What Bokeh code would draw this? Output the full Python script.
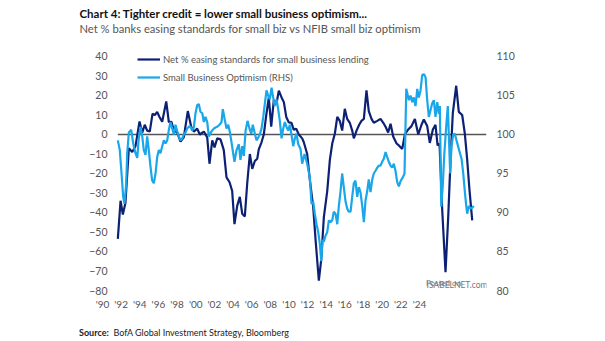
from bokeh.plotting import figure
from bokeh.models import (Range1d, LinearAxis, Label, Title, Div,
                          Legend, LegendItem, FixedTicker)
from bokeh.layouts import column
from bokeh.embed import file_html
from bokeh.resources import INLINE

# Net % banks easing standards for small business lending (LHS), quarterly
dark_dates = [1990.28, 1990.53, 1990.74, 1990.98, 1991.29, 1991.60, 1991.90, 1992.27, 1992.52, 1992.75,
              1992.97, 1993.21, 1993.46, 1993.67, 1993.89, 1994.10, 1994.35, 1994.72, 1994.96, 1995.20,
              1995.42, 1995.73, 1996.03, 1996.33, 1996.70, 1997.01, 1997.25, 1997.56, 1997.80, 1998.17,
              1998.48, 1998.69, 1998.94, 1999.15, 1999.40, 1999.70, 2000.00, 2000.25, 2000.53, 2000.77,
              2000.98, 2001.23, 2001.47, 2001.69, 2001.93, 2002.15, 2002.39, 2002.61, 2002.85, 2003.07,
              2003.21, 2003.46, 2003.67, 2003.89, 2004.13, 2004.35, 2004.59, 2004.84, 2005.05, 2005.30,
              2005.51, 2005.73, 2005.97, 2006.21, 2006.42, 2006.64, 2006.88, 2007.19, 2007.34, 2007.65,
              2007.89, 2008.20, 2008.42, 2008.72, 2008.94, 2009.18, 2009.49, 2009.73, 2009.95, 2010.19,
              2010.41, 2010.64, 2010.86, 2011.10, 2011.32, 2011.56, 2011.78, 2011.93, 2012.18, 2012.42,
              2012.63, 2012.85, 2013.09, 2013.30, 2013.55, 2013.76, 2014.08, 2014.38, 2014.63, 2014.84,
              2015.08, 2015.30, 2015.54, 2015.85, 2016.06, 2016.37, 2016.61, 2016.92, 2017.22, 2017.53,
              2017.84, 2018.14, 2018.35, 2018.66, 2018.90, 2019.18, 2019.42, 2019.61, 2019.79, 2020.04,
              2020.34, 2020.59, 2020.80, 2021.01, 2021.32, 2021.56, 2021.87, 2022.11, 2022.33, 2022.54,
              2022.79]
dark_vals = [-53.5, -34, -41, -35, -7, -9, -6, 6.7, 1, 5,
             2, 1.5, 10.6, 10, 11.5, 9, 6.5, 17, 6.3, 6.5,
             2, 1, -3.6, -1.5, 12, 4, 1.5, 3, 0, 1.5,
             -1.5, -15, -3, -6.6, -2, -2.5, -8, -22, -24.5, -29,
             -46, -36.6, -32, -40.6, -42, -25, -10, -17.6, -13.6, -12.4,
             -7.6, -4, 0, 9.7, 19, 4, 17.6, 16, 22.5, 19,
             16.6, 9, 6.2, 6, 2.4, 3, 0, -2, -4, -10,
             -23, -37, -54, -75, -64, -42.4, -29, -13, -4.6, 0.5,
             9, 7, 2, 13.2, 8, 6, 2, -2, 2, 5,
             7, 8, 22.6, 12, 8, 6, 7, 8, 6, 4,
             1, 5.5, -1, -4.6, -5.6, -7.4, 0, 2.6, 4.3, 8,
             0, 5, 7.7, 4.3, -4.3, 2.6, 5, -5.6, -4.6, -39,
             -70.6, -42, -13, 11, 25, 11.6, 10, 0.5, -13, -28.5,
             -44]

# NFIB Small Business Optimism index (RHS)
light_dates = [1990.28, 1990.46, 1990.62, 1990.77, 1990.89, 1991.05, 1991.14, 1991.29, 1991.51, 1991.69,
               1991.90, 1992.06, 1992.20, 1992.36, 1992.52, 1992.66, 1992.82, 1992.97, 1993.12, 1993.28,
               1993.43, 1993.58, 1993.74, 1993.89, 1994.04, 1994.19, 1994.35, 1994.50, 1994.65, 1994.81,
               1994.96, 1995.11, 1995.27, 1995.42, 1995.57, 1995.73, 1995.87, 1996.03, 1996.19, 1996.33,
               1996.49, 1996.64, 1996.79, 1996.95, 1997.10, 1997.25, 1997.41, 1997.56, 1997.71, 1997.86,
               1998.02, 1998.17, 1998.32, 1998.48, 1998.63, 1998.87, 1999.08, 1999.24, 1999.40, 1999.61,
               1999.79, 1999.91, 2000.09, 2000.25, 2000.41, 2000.53, 2000.71, 2000.86, 2000.98, 2001.17,
               2001.38, 2001.53, 2001.69, 2001.84, 2002.00, 2002.18, 2002.36, 2002.52, 2002.66, 2002.85,
               2003.00, 2003.16, 2003.30, 2003.46, 2003.62, 2003.76, 2003.92, 2004.07, 2004.22, 2004.38,
               2004.53, 2004.68, 2004.84, 2004.99, 2005.14, 2005.30, 2005.45, 2005.60, 2005.75, 2005.91,
               2006.06, 2006.21, 2006.37, 2006.52, 2006.67, 2006.83, 2007.04, 2007.19, 2007.41, 2007.65,
               2007.89, 2008.05, 2008.20, 2008.35, 2008.51, 2008.66, 2008.81, 2008.94, 2009.06, 2009.18,
               2009.33, 2009.49, 2009.64, 2009.79, 2009.95, 2010.09, 2010.25, 2010.41, 2010.55, 2010.71,
               2010.86, 2011.01, 2011.17, 2011.32, 2011.47, 2011.63, 2011.78, 2011.93, 2012.08, 2012.24,
               2012.39, 2012.54, 2012.70, 2012.85, 2013.00, 2013.16, 2013.30, 2013.46, 2013.62, 2013.76,
               2013.92, 2014.08, 2014.22, 2014.38, 2014.53, 2014.68, 2014.84, 2014.99, 2015.14, 2015.30,
               2015.45, 2015.60, 2015.75, 2015.91, 2016.06, 2016.21, 2016.42, 2016.58, 2016.74, 2016.98,
               2017.13, 2017.29, 2017.43, 2017.59, 2017.75, 2017.89, 2018.05, 2018.20, 2018.35, 2018.51,
               2018.66, 2018.81, 2018.97, 2019.12, 2019.27, 2019.42, 2019.58, 2019.73, 2019.82, 2019.95,
               2020.09, 2020.22, 2020.41, 2020.55, 2020.64, 2020.77, 2020.89, 2021.05, 2021.19, 2021.35,
               2021.56, 2021.81, 2021.96, 2022.11, 2022.24, 2022.33, 2022.48, 2022.64, 2022.79, 2022.94]
light_vals = [99.25, 98, 95, 92, 91.1, 93.75, 97.6, 100.25, 100.6, 98.85,
              97.6, 97, 99.5, 101, 99.75, 98, 97.4, 99.75, 98, 95.85,
              94.1, 93.75, 95, 97.1, 98, 97.6, 98.5, 99.25, 98.85, 99.25,
              100.6, 101.6, 100.75, 100, 101.25, 100.4, 99.75, 99.25, 99.5, 100,
              100.25, 100.75, 101, 101, 100.5, 100.9, 102.75, 103.75, 103.9, 102.9,
              102.75, 101.6, 102.25, 101.6, 99.75, 100.4, 100.75, 100.9, 101, 101.25,
              101.6, 103.25, 101.9, 100.75, 101.25, 100.5, 99, 97.6, 96.5, 98,
              98.75, 96.75, 98.5, 97.25, 100.5, 101.75, 100.75, 100.1, 101.25, 100.1,
              99.25, 99.6, 100, 100.75, 102.25, 103.9, 105.65, 105, 104.5, 106,
              104.75, 103.65, 104.5, 103.25, 101.75, 99.5, 100.75, 101.6, 101, 100.5,
              101.25, 100, 98.5, 99.5, 100.1, 98.75, 98.15, 96.25, 97.5, 96.25,
              94.5, 91.1, 91.4, 89.85, 88.5, 87.5, 86, 83.75, 86.5, 86.25,
              87, 87.5, 89, 88.75, 89, 90.1, 89.85, 88.5, 90.75, 92.75,
              95, 93.25, 91.4, 90.5, 90.1, 90.1, 92, 93.75, 94.1, 92,
              93.25, 92.6, 90.85, 88.75, 91.5, 92.75, 94.25, 92.6, 94.25, 95,
              95.35, 95.75, 96, 96, 96.5, 96.9, 97.75, 97.1, 96.5, 96,
              95.75, 96.25, 95.35, 93.9, 93.35, 94, 94.5, 95, 105.85, 104.4,
              105, 104.15, 104.75, 103.65, 105.85, 104.75, 105.65, 107.6, 107.75, 107.35,
              104.4, 102.25, 103.15, 104, 104.4, 102.25, 104.15, 102.65, 103.65, 90.75,
              93.5, 97.25, 101.15, 103.65, 100.1, 95, 98.5, 100, 100.1, 99.25,
              98.15, 96.9, 95.1, 92.75, 90.85, 89.85, 90.85, 90.5, 90.6, 90.85]

year_ticks = list(range(1990, 2025, 2))
year_labels = ["'%02d" % (y % 100) for y in year_ticks]
left_ticks = list(range(-80, 41, 10))
right_ticks = list(range(80, 111, 5))

DARK = "#0C2173"
LIGHT = "#19A7EA"
GREY = "#555555"
FONT = "Lato"

p = figure(width=605, height=320, output_backend="svg", toolbar_location=None,
           x_range=Range1d(1988.323, 2024.1), y_range=Range1d(-80, 51.28),
           min_border_left=96, min_border_right=119, min_border_top=34, min_border_bottom=30,
           x_axis_location=None, title=None, margin=0)
p.outline_line_color = None
p.grid.visible = False
p.background_fill_color = "white"
p.border_fill_color = "white"

p.extra_y_ranges = {"rhs": Range1d(80, 112.82)}
p.extra_x_ranges = {"lab": Range1d(1989.356, 2031.19)}

yl = p.yaxis[0]
yl.ticker = FixedTicker(ticks=left_ticks)
yr = LinearAxis(y_range_name="rhs", ticker=FixedTicker(ticks=right_ticks))
p.add_layout(yr, "right")
xb = LinearAxis(x_range_name="lab", ticker=FixedTicker(ticks=year_ticks),
                major_label_overrides={t: s for t, s in zip(year_ticks, year_labels)})
p.add_layout(xb, "below")
for ax in (yl, yr, xb):
    ax.axis_line_color = None
    ax.major_tick_line_color = None
    ax.minor_tick_line_color = None
    ax.major_tick_out = 0
    ax.major_tick_in = 0
    ax.minor_tick_out = 0
    ax.minor_tick_in = 0
    ax.major_label_text_color = GREY
    ax.major_label_text_font = FONT
    ax.major_label_text_font_size = "10.5px"
    ax.major_label_standoff = 10
yl.major_label_standoff = -11
xb.major_label_text_font_size = "10px"
xb.major_label_standoff = 7

# zero line from the first observation to the right edge
p.line([dark_dates[0], p.x_range.end], [0, 0], line_color=GREY, line_width=1.3)

r_dark = p.line(dark_dates, dark_vals, line_color=DARK, line_width=2.2)
r_light = p.line(light_dates, light_vals, y_range_name="rhs", line_color=LIGHT, line_width=2.2)

legend = Legend(items=[LegendItem(label="Net % easing standards for small business lending", renderers=[r_dark]),
                       LegendItem(label="Small Business Optimism (RHS)", renderers=[r_light])],
                location=(41, 206), padding=0, spacing=4, margin=0,
                glyph_width=23, glyph_height=14, label_height=14, label_standoff=3,
                label_text_font=FONT, label_text_font_size="9.5px", label_text_color=GREY,
                border_line_color=None, background_fill_alpha=0)
p.add_layout(legend, "center")

p.add_layout(Title(text="Net % banks easing standards for small biz vs NFIB small biz optimism",
                   align="left", offset=-17, standoff=0, text_font=FONT, text_font_style="normal",
                   text_font_size="11.2px", text_color=GREY), "above")
p.add_layout(Title(text="Chart 4: Tighter credit = lower small business optimism...",
                   align="left", offset=-17, standoff=0, text_font=FONT, text_font_style="bold",
                   text_font_size="11.5px", text_color="#111111"), "above")

p.add_layout(Label(x=347, y=8, x_units="screen", y_units="screen", text="Posted on",
                   text_font=FONT, text_font_size="8px", text_color="#777777",
                   text_align="center", text_baseline="middle"))
p.add_layout(Label(x=330, y=1, x_units="screen", y_units="screen", text="ISABELNET.com",
                   text_font=FONT, text_font_size="8.5px", text_color="#777777",
                   text_baseline="bottom"))

source = Div(text=('<div style="margin:7px 0 0 79px; font-family:Lato; font-size:9px; '
                   'line-height:12px; color:#222222; white-space:nowrap;">'
                   '<b>Source:</b>&nbsp; BofA Global Investment Strategy, Bloomberg</div>'),
             width=605, height=21, margin=0)

layout = column(p, source, spacing=0)
open("out.html", "w").write(file_html(layout, INLINE))
